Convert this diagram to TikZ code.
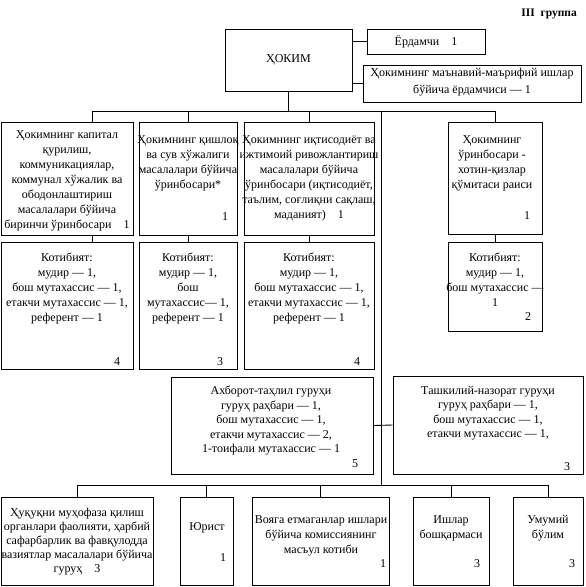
\documentclass[tikz,border=0pt]{standalone}
\usepackage{fontspec}
\setmainfont{Liberation Serif}
\usetikzlibrary{fit}

\begin{document}
\begin{tikzpicture}[
  x=1pt, y=-1pt,
  unit/.style={draw, line width=0.9pt, inner sep=0pt},
  txt/.style={anchor=north, align=center, inner sep=0pt, font=\fontsize{12}{15}\selectfont},
  num/.style={inner sep=0pt, font=\fontsize{12}{15}\selectfont},
  link/.style={line width=0.9pt}
]
  \useasboundingbox (0,0) rectangle (586,587);

  \node[anchor=east, inner sep=0pt, font=\fontsize{11.5}{13}\selectfont\bfseries] (group) at (577,14) {III\enspace группа};

  \node[unit, fit={(225,29) (352,91)}] (hokim) {};
  \node[num] (hokimname) at (hokim) {ҲОКИМ};
  \node[unit, fit={(367,29) (485,54)}] (helper) {};
  \node[num] (helpername) at (helper) {Ёрдамчи\quad 1};
  \node[unit, fit={(363,65) (581,102)}] (spiritual) {};
  \node[txt, font=\fontsize{12}{16.5}\selectfont] (spiritualname) at (472,68) {Ҳокимнинг маънавий-маърифий ишлар\\бўйича ёрдамчиси — 1};

  \node[unit, fit={(1,122) (133,235)}] (capital) {};
  \node[txt] (capitalname) at (67,130) {Ҳокимнинг капитал\\қурилиш,\\коммуникациялар,\\коммунал хўжалик ва\\ободонлаштириш\\масалалари бўйича\\биринчи ўринбосари\quad 1};
  \node[unit, fit={(139,122) (237,235)}] (agro) {};
  \node[txt] (agroname) at (188,135) {Ҳокимнинг қишлоқ\\ва сув хўжалиги\\масалалари бўйича\\ўринбосари*};
  \node[num] (agronum) at (225,217) {1};
  \node[unit, fit={(244,122) (374,235)}] (economy) {};
  \node[txt] (economyname) at (309,135) {Ҳокимнинг иқтисодиёт ва\\ижтимоий ривожлантириш\\масалалари бўйича\\ўринбосари (иқтисодиёт,\\таълим, соғлиқни сақлаш,\\маданият)\quad 1};
  \node[unit, fit={(448,122) (542,234)}] (women) {};
  \node[txt] (womenname) at (492,135) {Ҳокимнинг\\ўринбосари -\\хотин-қизлар\\қўмитаси раиси};
  \node[num] (womennum) at (527,216) {1};

  \node[unit, fit={(1,242) (133,369)}] (capital-staff) {};
  \node[txt] (capitalstaffname) at (67,253) {Котибият:\\мудир — 1,\\бош мутахассис — 1,\\етакчи мутахассис — 1,\\референт — 1};
  \node[num] (capitalstaffnum) at (117,362) {4};
  \node[unit, fit={(139,242) (237,369)}] (agro-staff) {};
  \node[txt] (agrostaffname) at (188,253) {Котибият:\\мудир — 1,\\бош\\мутахассис— 1,\\референт — 1};
  \node[num] (agrostaffnum) at (220,362) {3};
  \node[unit, fit={(244,242) (374,369)}] (economy-staff) {};
  \node[txt] (economystaffname) at (309,253) {Котибият:\\мудир — 1,\\бош мутахассис — 1,\\етакчи мутахассис — 1,\\референт — 1};
  \node[num] (economystaffnum) at (357,362) {4};
  \node[unit, fit={(448,242) (542,331)}] (women-staff) {};
  \node[txt] (womenstaffname) at (495,253) {Котибият:\\мудир — 1,\\бош мутахассис —\\1};
  \node[num] (womenstaffnum) at (528,317) {2};

  \node[unit, fit={(171,377) (373,474)}] (analysis) {};
  \node[txt, font=\fontsize{12}{14.5}\selectfont] (analysisname) at (271,386) {Ахборот-таҳлил гуруҳи\\гуруҳ раҳбари — 1,\\бош мутахассис — 1,\\етакчи мутахассис — 2,\\1-тоифали мутахассис — 1};
  \node[num] (analysisnum) at (355,464) {5};
  \node[unit, fit={(393,376) (583,474)}] (control) {};
  \node[txt, font=\fontsize{12}{14.5}\selectfont] (controlname) at (488,386) {Ташкилий-назорат гуруҳи\\гуруҳ раҳбари — 1,\\бош мутахассис — 1,\\етакчи мутахассис — 1,};
  \node[num] (controlnum) at (567,467) {3};

  \node[unit, fit={(1,497) (153,585)}] (security) {};
  \node[txt, font=\fontsize{12}{14}\selectfont] (securityname) at (77,508) {Ҳуқуқни муҳофаза қилиш\\органлари фаолияти, ҳарбий\\сафарбарлик ва фавқулодда\\вазиятлар масалалари бўйича\\гуруҳ\quad 3};
  \node[unit, fit={(180,497) (233,585)}] (lawyer) {};
  \node[txt] (lawyername) at (207,522) {Юрист};
  \node[num] (lawyernum) at (223,558) {1};
  \node[unit, fit={(252,497) (389,585)}] (minors) {};
  \node[txt] (minorsname) at (321,515) {Вояга етмаганлар ишлари\\бўйича комиссиянинг\\масъул котиби};
  \node[num] (minorsnum) at (383,564) {1};
  \node[unit, fit={(413,497) (489,585)}] (affairs) {};
  \node[txt] (affairsname) at (451,515) {Ишлар\\бошқармаси};
  \node[num] (affairsnum) at (477,564) {3};
  \node[unit, fit={(513,497) (583,585)}] (general) {};
  \node[txt] (generalname) at (548,515) {Умумий\\бўлим};
  \node[num] (generalnum) at (572,564) {3};

  \coordinate (hub) at (289,111);
  \coordinate (capitaltap) at (92,111);
  \coordinate (spine) at (381,111);
  \coordinate (base) at (381,485);

  \draw[link] (hokim.east |- helper.west) -- (helper.west);
  \draw[link] (hokim.east |- spiritual.west) -- (spiritual.west);
  \draw[link] (hokim.south) -- (hokim.south |- hub);
  \draw[link] (capitaltap) -- (women.north |- capitaltap);
  \draw[link] (capitaltap) -- (capitaltap |- capital.north);
  \draw[link] (capital.south -| capitaltap) -- (capital-staff.north -| capitaltap);
  \foreach \n in {agro, economy, women} {
    \draw[link] (\n.north |- hub) -- (\n.north);
    \draw[link] (\n.south) -- (\n-staff.north);
  }
  \draw[link] (spine) -- (base);
  \draw[link] (analysis.east) -- (control.west);
  \draw[link] (security.north |- base) -- (general.north |- base);
  \foreach \n in {security, lawyer, minors, affairs, general}
    \draw[link] (\n.north |- base) -- (\n.north);
\end{tikzpicture}
\end{document}
